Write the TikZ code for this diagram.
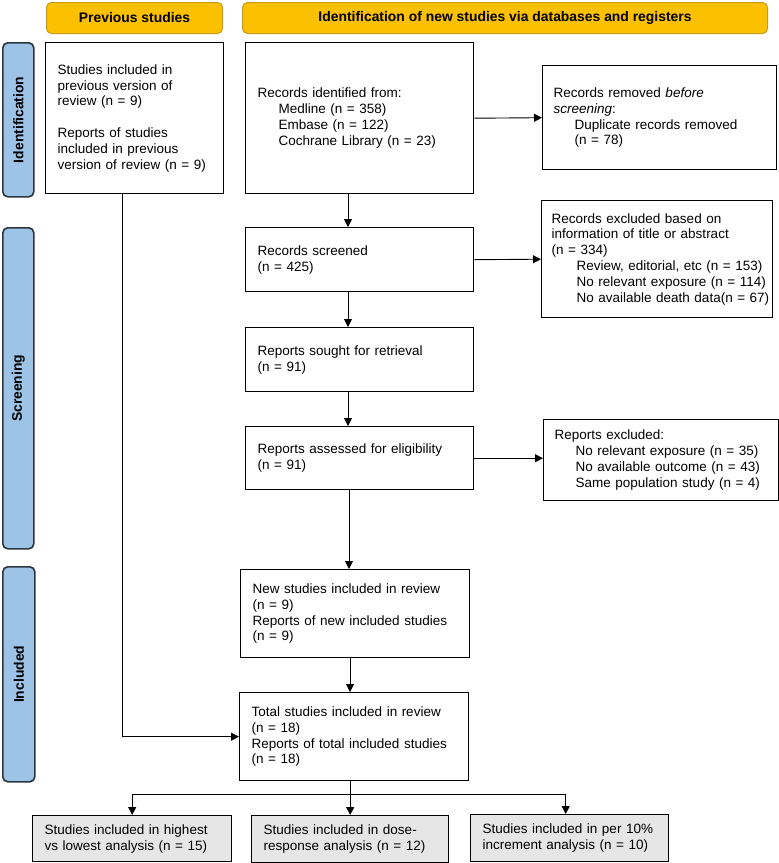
\documentclass[tikz,border=0pt]{standalone}
\usepackage{fontspec}
\setmainfont{Liberation Sans}
\usetikzlibrary{arrows.meta,calc}
\definecolor{gold}{HTML}{FBC000}
\definecolor{goldline}{HTML}{C99A12}
\definecolor{barblue}{HTML}{9DC3E6}
\definecolor{barline}{HTML}{2A3640}
\definecolor{greybox}{HTML}{E6E6E6}
\tikzset{
  every node/.style={font=\fontsize{13.5}{15.8}\selectfont},
  hdr/.style={draw=goldline, line width=1pt, fill=gold, rounded corners=5pt, anchor=north west, inner sep=0pt},
  hdrtext/.style={font=\fontsize{13.9}{16}\selectfont\bfseries},
  sidebar/.style={draw=barline, line width=1.6pt, fill=barblue, rounded corners=5pt, anchor=north west, inner sep=0pt},
  sidetext/.style={rotate=90, font=\fontsize{13.9}{16}\selectfont\bfseries},
  flowbox/.style={draw=black, line width=1.4pt, fill=white, anchor=north west, align=left, inner xsep=12pt, inner ysep=0pt},
  greyflow/.style={flowbox, fill=greybox},
  arr/.style={draw=black, line width=0.9pt, -{Triangle[length=8pt,width=8pt]}},
  conn/.style={draw=black, line width=0.9pt}
}
\newcommand{\ind}[1]{\mbox{\hspace*{21pt}#1}}
\newcommand{\indw}[1]{\mbox{\hspace*{25pt}#1}}
\begin{document}
\begin{tikzpicture}[x=1pt,y=-1pt]
\useasboundingbox (0,0) rectangle (779,863);
% headers
\node[hdr, minimum width=176pt, minimum height=31pt] (hprev) at (46,2) {};
\node[hdrtext] at (hprev.center) {Previous studies};
\node[hdr, minimum width=525pt, minimum height=31pt] (hid) at (242,2) {};
\node[hdrtext] at (hid.center) {Identification of new studies via databases and registers};
% side bars
\node[sidebar, minimum width=31pt, minimum height=154pt] (sid) at (2,42) {};
\node[sidetext] at (sid.center) {Identification};
\node[sidebar, minimum width=31pt, minimum height=321pt] (sscr) at (2,227) {};
\node[sidetext] at (sscr.center) {Screening};
\node[sidebar, minimum width=32pt, minimum height=215pt] (sinc) at (2,566) {};
\node[sidetext] at (sinc.center) {Included};
% boxes
\node[flowbox, minimum width=176pt, minimum height=151pt, text width=154pt] (prev) at (45,42)
 {Studies included in\\previous version of\\review (n = 9)\\[15.8pt]Reports of studies\\included in previous\\\mbox{version of review (n = 9)}};
\node[flowbox, minimum width=228pt, minimum height=151pt, text width=204pt] (ident) at (245,42)
 {Records identified from:\\\ind{Medline (n = 358)}\\\ind{Embase (n = 122)}\\\ind{Cochrane Library (n = 23)}};
\node[flowbox, minimum width=234pt, minimum height=104pt, text width=212pt, inner xsep=11pt] (removed) at (542,65)
 {Records removed \textit{before}\\\textit{screening}:\\\ind{Duplicate records removed}\\\ind{(n = 78)}};
\node[flowbox, minimum width=228pt, minimum height=64pt, text width=204pt] (screened) at (245,227)
 {Records screened\\(n = 425)};
\node[flowbox, minimum width=231pt, minimum height=117pt, text width=211pt, inner xsep=10pt] (excl) at (541,200)
 {Records excluded based on\\information of title or abstract\\(n = 334)\\\indw{Review, editorial, etc (n = 153)}\\\indw{No relevant exposure (n = 114)}\\\indw{No available death data(n = 67)}\par\vspace*{8pt}};
\node[flowbox, minimum width=228pt, minimum height=64pt, text width=204pt] (sought) at (245,327)
 {Reports sought for retrieval\\(n = 91)};
\node[flowbox, minimum width=228pt, minimum height=63pt, text width=204pt] (assessed) at (245,426)
 {Reports assessed for eligibility\\(n = 91)};
\node[flowbox, minimum width=235pt, minimum height=81pt, text width=213pt, inner xsep=11pt] (rexcl) at (543,419)
 {Reports excluded:\\\ind{No relevant exposure (n = 35)}\\\ind{No available outcome (n = 43)}\\\ind{Same population study (n = 4)}};
\node[flowbox, minimum width=229pt, minimum height=88pt, text width=205pt] (newst) at (240,569)
 {New studies included in review\\(n = 9)\\Reports of new included studies\\(n = 9)};
\node[flowbox, minimum width=229pt, minimum height=88pt, text width=205pt] (total) at (239,692)
 {Total studies included in review\\(n = 18)\\Reports of total included studies\\(n = 18)};
\node[greyflow, minimum width=199pt, minimum height=46pt, text width=175pt] (b1) at (32,815)
 {Studies included in highest\\vs lowest analysis (n = 15)};
\node[greyflow, minimum width=197pt, minimum height=47pt, text width=173pt] (b2) at (251,815)
 {Studies included in dose-\\response analysis (n = 12)};
\node[greyflow, minimum width=198pt, minimum height=47pt, text width=174pt] (b3) at (470,814)
 {Studies included in per 10\%\\increment analysis (n = 10)};
% connectors
\coordinate (vx) at (348,0);
\coordinate (pl) at (122,193);
\coordinate (br) at (0,794);
\draw[arr] (ident.south -| vx) -- (screened.north -| vx);
\draw[arr] (ident.east) -- (removed.west);
\draw[arr] (screened.east) -- (excl.west);
\draw[arr] (screened.south -| vx) -- (sought.north -| vx);
\draw[arr] (sought.south -| vx) -- (assessed.north -| vx);
\draw[arr] (assessed.east) -- (assessed.east -| rexcl.west);
\draw[arr] ($(assessed.south -| vx)+(1,0)$) -- ($(newst.north -| vx)+(1,0)$);
\draw[arr] ($(newst.south -| vx)+(2,0)$) -- ($(total.north -| vx)+(2,0)$);
\draw[arr] (pl) |- (total.west);
\draw[arr] (b2.north |- total.south) -- (b2.north);
\draw[arr] (b2.north |- br) -| (b1.north);
\draw[arr] (b2.north |- br) -| ($(b3.north)+(-4,0)$);
\end{tikzpicture}
\end{document}
